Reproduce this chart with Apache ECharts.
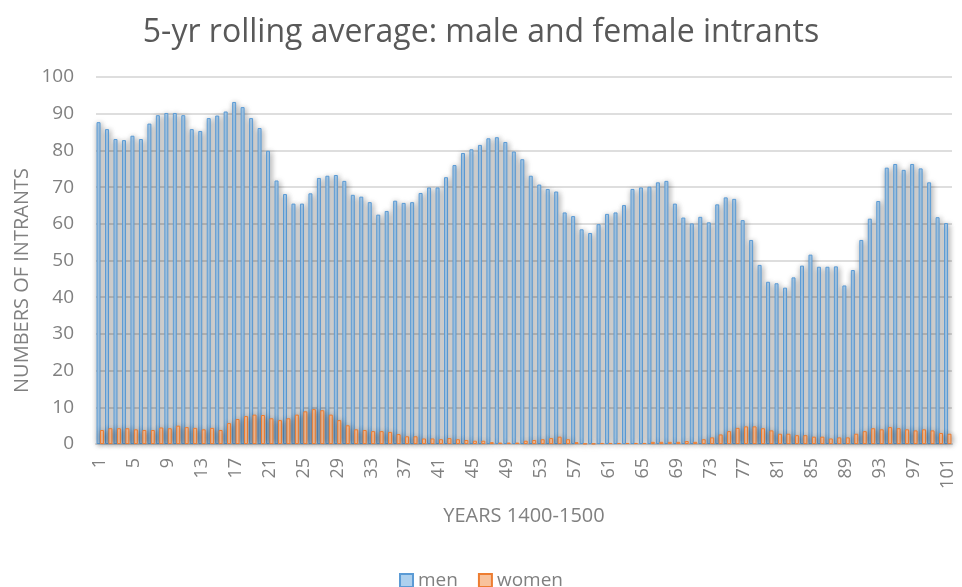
<!DOCTYPE html>
<html>
<head>
<meta charset="utf-8">
<script src="https://cdn.jsdelivr.net/npm/echarts@6/dist/echarts.min.js"></script>
<style>
  html, body { margin: 0; padding: 0; background: #fff; }
  #chart { width: 962px; height: 587px; }
</style>
</head>
<body>
<div id="chart"></div>
<script>
// years 1..101 (1400-1500)
var years = [];
for (var i = 1; i <= 101; i++) years.push(String(i));

var men = [
  87.7, 85.8, 83.1, 82.8, 84.0, 83.1, 87.3, 89.6, 90.2, 90.2,
  89.6, 85.8, 85.3, 88.8, 89.5, 90.6, 93.2, 91.8, 88.8, 86.1,
  79.9, 71.8, 68.1, 65.5, 65.5, 68.3, 72.5, 73.1, 73.3, 71.7,
  67.9, 67.4, 65.9, 62.5, 63.5, 66.3, 65.7, 65.9, 68.4, 69.9,
  69.9, 72.7, 76.0, 79.3, 80.3, 81.5, 83.3, 83.6, 82.3, 79.7,
  77.6, 73.1, 70.7, 69.5, 68.8, 63.1, 62.1, 58.5, 57.5, 59.9,
  62.7, 63.1, 65.1, 69.5, 69.9, 70.1, 71.3, 71.7, 65.5, 61.7,
  60.1, 61.9, 60.4, 65.3, 67.2, 66.8, 61.0, 55.6, 48.8, 44.2,
  43.8, 42.6, 45.4, 48.6, 51.6, 48.3, 48.3, 48.4, 43.2, 47.4,
  55.6, 61.4, 66.2, 75.3, 76.3, 74.7, 76.3, 75.1, 71.3, 61.8,
  60.2
];

var women = [
  3.8, 4.3, 4.3, 4.3, 4.0, 3.8, 3.8, 4.5, 4.3, 5.0,
  4.6, 4.4, 4.0, 4.4, 3.8, 5.7, 6.8, 7.6, 8.0, 7.9,
  7.0, 6.5, 7.0, 8.0, 8.9, 9.5, 9.2, 8.0, 6.5, 5.1,
  4.0, 3.8, 3.5, 3.5, 3.3, 2.7, 2.1, 2.1, 1.5, 1.5,
  1.3, 1.6, 1.3, 1.1, 0.9, 0.9, 0.5, 0.4, 0.4, 0.4,
  0.9, 1.1, 1.3, 1.6, 2.0, 1.3, 0.5, 0.1, 0.1, 0.3,
  0.3, 0.3, 0.3, 0.3, 0.3, 0.6, 0.6, 0.6, 0.6, 0.8,
  0.6, 1.3, 1.8, 2.6, 3.5, 4.4, 4.8, 4.8, 4.3, 3.7,
  2.8, 2.8, 2.4, 2.4, 2.0, 2.0, 1.5, 1.8, 1.8, 2.8,
  3.5, 4.3, 4.0, 4.6, 4.3, 4.0, 3.7, 4.0, 3.7, 3.0,
  2.8
];

var font = '"Open Sans", "Liberation Sans", sans-serif';
var dark = '#595959';
var grey = '#808080';

var chart = echarts.init(document.getElementById('chart'));

function barStyle(edge, fill) {
  return {
    color: fill,
    borderColor: edge,
    borderWidth: 1,
    shadowBlur: 6,
    shadowColor: 'rgba(0,0,0,0.4)',
    shadowOffsetX: 1,
    shadowOffsetY: 1
  };
}

chart.setOption({
  animation: false,
  title: {
    text: '5-yr rolling average: male and female intrants',
    left: 'center',
    top: 12,
    textStyle: { fontFamily: font, fontSize: 32, fontWeight: 'normal', color: dark }
  },
  legend: {
    top: 566,
    left: 'center',
    itemWidth: 13,
    itemHeight: 13,
    itemGap: 20,
    textStyle: { fontFamily: font, fontSize: 19, color: grey },
    data: [
      { name: 'men', icon: 'rect' },
      { name: 'women', icon: 'rect' }
    ]
  },
  grid: { left: 96, right: 10, top: 77, bottom: 143 },
  xAxis: {
    type: 'category',
    data: years,
    name: 'YEARS 1400-1500',
    nameLocation: 'middle',
    nameGap: 62,
    nameMoveOverlap: false,
    nameTextStyle: { fontFamily: font, fontSize: 20, color: grey, verticalAlign: 'top' },
    axisLine: { lineStyle: { color: '#d9d9d9', width: 2 } },
    axisTick: { show: false },
    axisLabel: {
      interval: 3,
      rotate: 90,
      fontFamily: font,
      fontSize: 18,
      color: grey,
      margin: 14
    }
  },
  yAxis: {
    type: 'value',
    min: 0,
    max: 100,
    interval: 10,
    name: 'NUMBERS OF INTRANTS',
    nameLocation: 'middle',
    nameGap: 64,
    nameMoveOverlap: false,
    nameTextStyle: { fontFamily: font, fontSize: 20, color: grey, padding: [0, 40, 0, 0] },
    axisLabel: { fontFamily: font, fontSize: 19, color: grey, margin: 22 },
    splitLine: { lineStyle: { color: '#dedede', width: 2 } }
  },
  series: [
    {
      name: 'men',
      type: 'bar',
      data: men,
      barWidth: 4,
      barGap: '-15%',
      itemStyle: barStyle('#5b9bd5', '#add0ee')
    },
    {
      name: 'women',
      type: 'bar',
      data: women,
      barWidth: 4,
      itemStyle: barStyle('#ed7d31', '#f8c29c')
    }
  ]
});
</script>
</body>
</html>
